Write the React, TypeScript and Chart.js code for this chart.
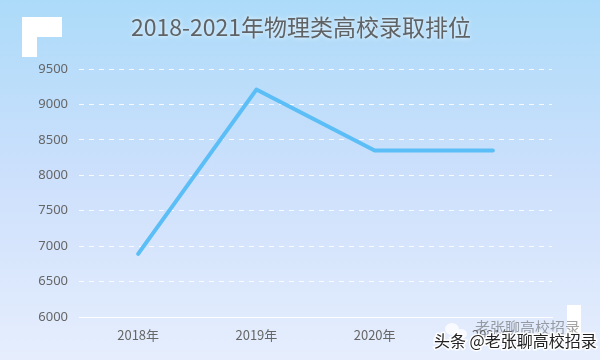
import React, { useEffect, useRef } from "react";
import { Chart, registerables } from "chart.js";

Chart.register(...registerables);

const TITLE = "2018-2021年物理类高校录取排位";
const CATEGORIES = ["2018年", "2019年", "2020年", "2021年"];
const RANKS = [6890, 9210, 8350, 8350];
const Y_MIN = 6000;
const Y_MAX = 9500;
const Y_STEP = 500;
const WATERMARK_MAIN = "头条 @老张聊高校招录";
const WATERMARK_SUB = "老张聊高校招录";

const decorPlugin = {
  id: "decor",
  beforeDraw(chart: any) {
    const { ctx, width, height } = chart;
    ctx.save();
    const g = ctx.createLinearGradient(0, 0, 0, height);
    g.addColorStop(0, "#acdbf9");
    g.addColorStop(0.5, "#cde0fc");
    g.addColorStop(1, "#e6eefd");
    ctx.fillStyle = g;
    ctx.fillRect(0, 0, width, height);
    // corner decorations
    ctx.fillStyle = "#ffffff";
    ctx.fillRect(22, 17, 40, 20);
    ctx.fillRect(22, 17, 15, 40);
    ctx.fillRect(567, 305, 14, 30);
    // title
    ctx.font = '23px "Noto Sans CJK SC", "Noto Sans", sans-serif';
    ctx.textAlign = "center";
    ctx.textBaseline = "middle";
    ctx.shadowColor = "rgba(255,255,255,0.9)";
    ctx.shadowBlur = 4;
    ctx.fillStyle = "#606366";
    ctx.fillText(TITLE, 301, 27);
    ctx.restore();
  },
  afterDraw(chart: any) {
    const { ctx } = chart;
    ctx.save();
    // faint wechat-like icon
    ctx.fillStyle = "rgba(255,255,255,0.75)";
    ctx.beginPath();
    ctx.ellipse(452, 329, 7, 6, 0, 0, Math.PI * 2);
    ctx.fill();
    ctx.beginPath();
    ctx.ellipse(461, 334, 6, 5, 0, 0, Math.PI * 2);
    ctx.fill();
    ctx.font = '15px "Noto Sans CJK SC", sans-serif';
    ctx.textAlign = "left";
    ctx.textBaseline = "middle";
    ctx.fillStyle = "rgba(90,90,90,0.55)";
    ctx.fillText(WATERMARK_SUB, 475, 327);
    ctx.font = '16px "Noto Sans CJK SC", sans-serif';
    ctx.lineWidth = 3;
    ctx.strokeStyle = "rgba(255,255,255,0.9)";
    ctx.strokeText(WATERMARK_MAIN, 434, 341);
    ctx.fillStyle = "#222";
    ctx.fillText(WATERMARK_MAIN, 434, 341);
    ctx.restore();
  },
};

export default function App() {
  const ref = useRef<HTMLCanvasElement>(null);
  useEffect(() => {
    if (!ref.current) return;
    const chart = new Chart(ref.current, {
      type: "line",
      data: {
        labels: CATEGORIES,
        datasets: [
          {
            data: RANKS,
            borderColor: "#5bbef6",
            borderWidth: 4,
            pointRadius: 0,
            tension: 0,
            borderCapStyle: "round",
            borderJoinStyle: "round",
            fill: false,
          },
        ],
      },
      options: {
        animation: false,
        responsive: false,
        devicePixelRatio: 1,
        layout: { padding: { top: 69, right: 48, left: 0, bottom: 0 } },
        plugins: { legend: { display: false }, tooltip: { enabled: false }, title: { display: false } },
        scales: {
          x: {
            offset: true,
            grid: { display: false, drawTicks: false },
            border: { display: true, color: "rgba(255,255,255,0.95)", width: 1 },
            ticks: {
              color: "#666",
              padding: 10,
              font: { size: 13, family: '"Noto Sans CJK SC", "Noto Sans", sans-serif' },
            },
            afterFit: (s: any) => {
              s.height = 43;
            },
          },
          y: {
            min: Y_MIN,
            max: Y_MAX,
            ticks: {
              stepSize: Y_STEP,
              color: "#666",
              padding: 11,
              font: { size: 13, family: '"Noto Sans", sans-serif' },
              callback: (v: any) => String(v),
            },
            grid: {
              drawTicks: false,
              color: (c: any) => (c.index === 0 ? "rgba(0,0,0,0)" : "rgba(255,255,255,0.85)"),
              lineWidth: 1,
            },
            border: { display: false, dash: [5, 5] },
            afterFit: (s: any) => {
              s.width = 79;
            },
          },
        },
      },
      plugins: [decorPlugin],
    });
    return () => chart.destroy();
  }, []);
  return (
    <div style={{ position: "absolute", left: 0, top: 0, width: 600, height: 360 }}>
      <canvas ref={ref} width={600} height={360} style={{ width: 600, height: 360 }} />
    </div>
  );
}
